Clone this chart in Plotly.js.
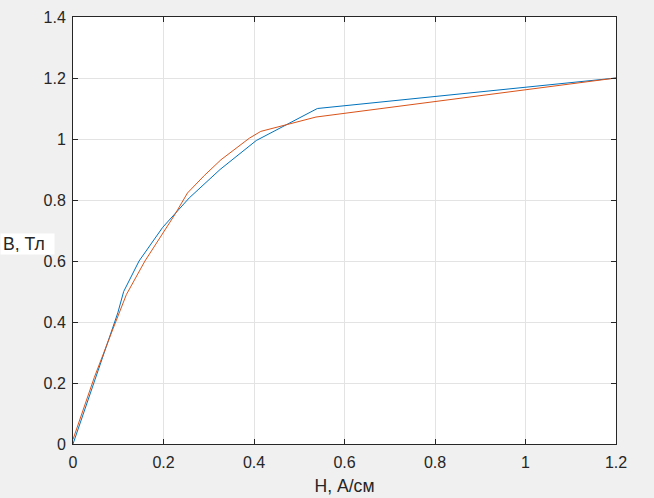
<!DOCTYPE html>
<html><head><meta charset="utf-8">
<script src="https://cdn.plot.ly/plotly-3.0.1.min.js"></script>
<style>html,body{margin:0;padding:0;background:#f0f0f0;}</style>
</head><body>
<div id="chart" style="width:654px;height:498px;"></div>
<script>
// Measured curve (blue)
const H1 = [0, 0.099, 0.112, 0.146, 0.198, 0.257, 0.325, 0.405, 0.54, 1.2];
const B1 = [0, 0.43, 0.5, 0.6, 0.71, 0.807, 0.9, 0.995, 1.1, 1.2];
// Approximated curve (orange)
const H2 = [0, 0.047, 0.089, 0.118, 0.159, 0.199, 0.225, 0.253, 0.29, 0.327, 0.39, 0.415, 0.537, 1.2];
const B2 = [0.015, 0.218, 0.38, 0.49, 0.6, 0.692, 0.752, 0.823, 0.88, 0.932, 1.003, 1.025, 1.072, 1.2];
const xTicks = [0, 0.2, 0.4, 0.6, 0.8, 1, 1.2];
const yTicks = [0, 0.2, 0.4, 0.6, 0.8, 1, 1.2, 1.4];
const xTitle = "H, А/см";
const yTitle = "B, Тл";

const tickFont = {family: "Liberation Sans, Arial, sans-serif", size: 16, color: "#262626"};
const titleFont = {family: "Liberation Sans, Arial, sans-serif", size: 17.6, color: "#262626"};
const axisCommon = {
  showline: true, linecolor: "#262626", linewidth: 1, mirror: "ticks",
  ticks: "inside", ticklen: 5, tickcolor: "#262626", tickwidth: 1,
  showgrid: true, gridcolor: "#e3e3e3", gridwidth: 1, zeroline: false,
  tickfont: tickFont, fixedrange: true
};
const data = [
  {x: H1, y: B1, type: "scatter", mode: "lines", line: {color: "#0072BD", width: 1}, hoverinfo: "none"},
  {x: H2, y: B2, type: "scatter", mode: "lines", line: {color: "#D95319", width: 1}, hoverinfo: "none"}
];
const layout = {
  width: 654, height: 498,
  margin: {l: 73, r: 38, t: 17, b: 54},
  paper_bgcolor: "#f0f0f0", plot_bgcolor: "#ffffff",
  showlegend: false,
  font: tickFont,
  xaxis: Object.assign({}, axisCommon, {
    range: [0, 1.2], tickvals: xTicks, ticktext: xTicks.map(String),
    ticklabelstandoff: 4,
    title: {text: xTitle, font: titleFont, standoff: 9}
  }),
  yaxis: Object.assign({}, axisCommon, {
    range: [0, 1.4], tickvals: yTicks, ticktext: yTicks.map(String),
    ticklabelstandoff: 3
  }),
  annotations: [{
    text: yTitle, xref: "paper", yref: "y", x: -0.1352, y: 0.656,
    xanchor: "left", yanchor: "middle", showarrow: false,
    width: 49, height: 16, align: "left",
    font: titleFont, bgcolor: "#ffffff", borderpad: 2
  }]
};
Plotly.newPlot("chart", data, layout, {displayModeBar: false, staticPlot: true});
</script>
</body></html>
